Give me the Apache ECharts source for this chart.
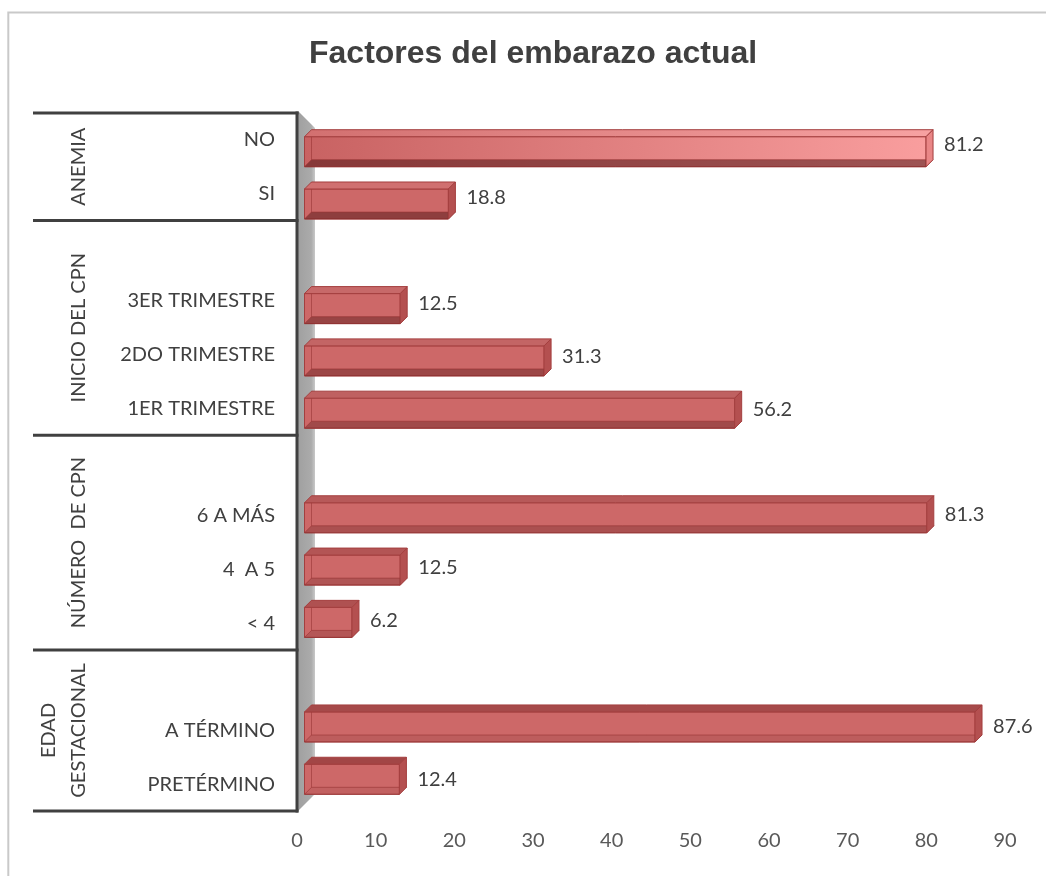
<!DOCTYPE html>
<html>
<head>
<meta charset="utf-8">
<script src="https://cdn.jsdelivr.net/npm/echarts@6/dist/echarts.min.js"></script>
<style>html,body{margin:0;padding:0;background:#fff}#c{width:1046px;height:876px}</style>
</head>
<body>
<div id="c"></div>
<script>
// ---- data ----
const categories = ['NO', 'SI', ' ', '3ER TRIMESTRE', '2DO TRIMESTRE', '1ER TRIMESTRE', '  ', '6 A MÁS', '4  A 5', '< 4', '   ', 'A TÉRMINO', 'PRETÉRMINO'];
const values = [81.2, 18.8, null, 12.5, 31.3, 56.2, null, 81.3, 12.5, 6.2, null, 87.6, 12.4];
const groupNames = ['ANEMIA', 'INICIO DEL CPN', 'NÚMERO  DE CPN', 'EDAD\nGESTACIONAL'];
const groupSizes = [2, 4, 4, 3];
const xTicks = [0, 10, 20, 30, 40, 50, 60, 70, 80, 90];
const titleText = 'Factores del embarazo actual';

const FONT = 'Lato';
const TXT = '#404040';

function mix(a, b, u) {
  return 'rgb(' + a.map((v, k) => Math.round(v + (b[k] - v) * u)).join(',') + ')';
}

function renderFrame(params, api) {
  const cs = params.coordSys;
  const x0 = api.coord([0, 0])[0];
  const bh = api.size([0, 1])[1];
  const top = cs.y, bottom = cs.y + cs.height;
  const left = 33;
  const ch = [];
  // gray side wall
  ch.push({
    type: 'polygon',
    shape: { points: [[x0 + 1, top - 2], [x0 + 18, top + 15], [x0 + 18, bottom - 17], [x0 + 1, bottom]] },
    style: { fill: new echarts.graphic.LinearGradient(0, 0, 1, 0, [
      { offset: 0, color: '#a0a0a0' }, { offset: 0.78, color: '#ababab' }, { offset: 1, color: '#c8c8c8' }]) }
  });
  const lineStyle = { stroke: '#404040', lineWidth: 3 };
  let start = 0;
  groupSizes.forEach((size, g) => {
    const yS = api.coord([0, start])[1] - bh / 2;
    const yE = api.coord([0, start + size - 1])[1] + bh / 2;
    ch.push({ type: 'line', shape: { x1: left, y1: yS, x2: x0 + 1.5, y2: yS }, style: lineStyle });
    if (g === groupSizes.length - 1) {
      ch.push({ type: 'line', shape: { x1: left, y1: yE, x2: x0 + 1.5, y2: yE }, style: lineStyle });
    }
    const nLines = groupNames[g].split('\n').length;
    const cx = 79 - (nLines - 1) * 15;
    ch.push({
      type: 'text', x: cx, y: (yS + yE) / 2, rotation: Math.PI / 2,
      style: { text: groupNames[g], x: 0, y: 0, align: 'center', verticalAlign: 'middle',
        fill: TXT, fontSize: 20, fontFamily: FONT, lineHeight: 30 }
    });
    start += size;
  });
  ch.push({ type: 'line', shape: { x1: x0, y1: top - 1.5, x2: x0, y2: bottom + 1.5 }, style: lineStyle });
  return { type: 'group', children: ch };
}

function renderBar(params, api) {
  const cs = params.coordSys;
  const v = api.value(0), i = api.value(1);
  const p0 = api.coord([0, i]);
  const p1 = api.coord([v, i]);
  const bh = api.size([0, 1])[1];
  const yc = p0[1];
  const mid = cs.y + cs.height / 2;
  const shift = -(yc - mid) * 0.026;
  const H = bh * 0.69, D = 7;
  const top = yc + shift - H / 2, bot = top + H;
  const backL = p0[0], backR = p1[0];
  const frontL = backL - D, frontR = backR - D;
  const fy0 = top + D, fy1 = bot, by0 = top, by1 = bot - D;
  let u = (yc - mid) / (cs.height / 2);
  u = Math.max(-1, Math.min(1, u));
  u = (u + 1) / 2;
  const edge = '#a43f3f';
  const special = (i === 0);
  const frontFill = special
    ? new echarts.graphic.LinearGradient(0, 0, 1, 0, [{ offset: 0, color: '#c86262' }, { offset: 1, color: '#f99e9e' }])
    : '#cd6868';
  const topFill = special
    ? new echarts.graphic.LinearGradient(0, 0, 1, 0, [{ offset: 0, color: '#d27070' }, { offset: 1, color: '#f7a2a2' }])
    : mix([214, 118, 118], [160, 68, 68], u);
  const ch = [];
  // front face
  ch.push({ type: 'rect', shape: { x: frontL, y: fy0, width: frontR - frontL, height: fy1 - fy0 },
    style: { fill: frontFill, stroke: edge, lineWidth: 1 } });
  // bottom face seen through
  ch.push({ type: 'polygon', shape: { points: [[frontL, fy1], [backL, by1], [backR, by1], [frontR, fy1]] },
    style: { fill: 'rgba(80,20,20,' + (0.5 * (1 - u) + 0.06).toFixed(3) + ')', stroke: 'rgba(150,50,50,0.6)', lineWidth: 1 } });
  // inner back-left edge
  ch.push({ type: 'line', shape: { x1: backL, y1: by0, x2: backL, y2: by1 },
    style: { stroke: 'rgba(150,50,50,0.55)', lineWidth: 1 } });
  // top face
  ch.push({ type: 'polygon', shape: { points: [[frontL, fy0], [backL, by0], [backR, by0], [frontR, fy0]] },
    style: { fill: topFill, stroke: edge, lineWidth: 1 } });
  // right face
  ch.push({ type: 'polygon', shape: { points: [[frontR, fy0], [backR, by0], [backR, by1], [frontR, fy1]] },
    style: { fill: special ? '#e98686' : '#b45050', stroke: edge, lineWidth: 1 } });
  // value label
  ch.push({ type: 'text', style: { text: v.toFixed(1), x: backR + 11, y: yc + shift * 0.6,
    align: 'left', verticalAlign: 'middle', fill: TXT, fontSize: 20, fontFamily: FONT } });
  return { type: 'group', children: ch };
}

const barData = [];
values.forEach((v, i) => { if (v != null) barData.push([v, i]); });

const chart = echarts.init(document.getElementById('c'));
chart.setOption({
  animation: false,
  backgroundColor: '#ffffff',
  title: {
    text: titleText, left: 304, top: 33,
    textStyle: { fontFamily: 'Liberation Sans', fontWeight: 'bold', fontSize: 32, color: TXT }
  },
  graphic: [{
    type: 'rect', z: -10, silent: true,
    shape: { x: 8.3, y: 12.5, width: 2000, height: 2000 },
    style: { fill: 'none', stroke: '#c9c9c9', lineWidth: 2 }
  }],
  grid: [
    { left: 297, right: 41, top: 113, bottom: 65 },
    { left: 311.5, right: 45.6, top: 113, bottom: 65 }
  ],
  xAxis: [
    { gridIndex: 0, type: 'value', min: xTicks[0], max: xTicks[xTicks.length - 1], interval: 10,
      axisLine: { show: false }, axisTick: { show: false }, splitLine: { show: false },
      axisLabel: { margin: 20, fontSize: 20, fontFamily: FONT, color: '#595959' } },
    { gridIndex: 1, type: 'value', min: xTicks[0], max: xTicks[xTicks.length - 1], show: false, splitLine: { show: false } }
  ],
  yAxis: [
    { gridIndex: 0, type: 'category', inverse: true, data: categories,
      axisLine: { show: false }, axisTick: { show: false },
      axisLabel: { margin: 22, fontSize: 20, fontFamily: FONT, color: TXT, interval: 0 } },
    { gridIndex: 1, type: 'category', inverse: true, data: categories, show: false }
  ],
  series: [
    { type: 'custom', name: 'frame', xAxisIndex: 0, yAxisIndex: 0, z: 1, silent: true,
      data: [[0, 0]], renderItem: renderFrame },
    { type: 'custom', name: 'Factores', xAxisIndex: 1, yAxisIndex: 1, z: 3, silent: true,
      encode: { x: 0, y: 1 }, data: barData, renderItem: renderBar }
  ]
});
</script>
</body>
</html>
